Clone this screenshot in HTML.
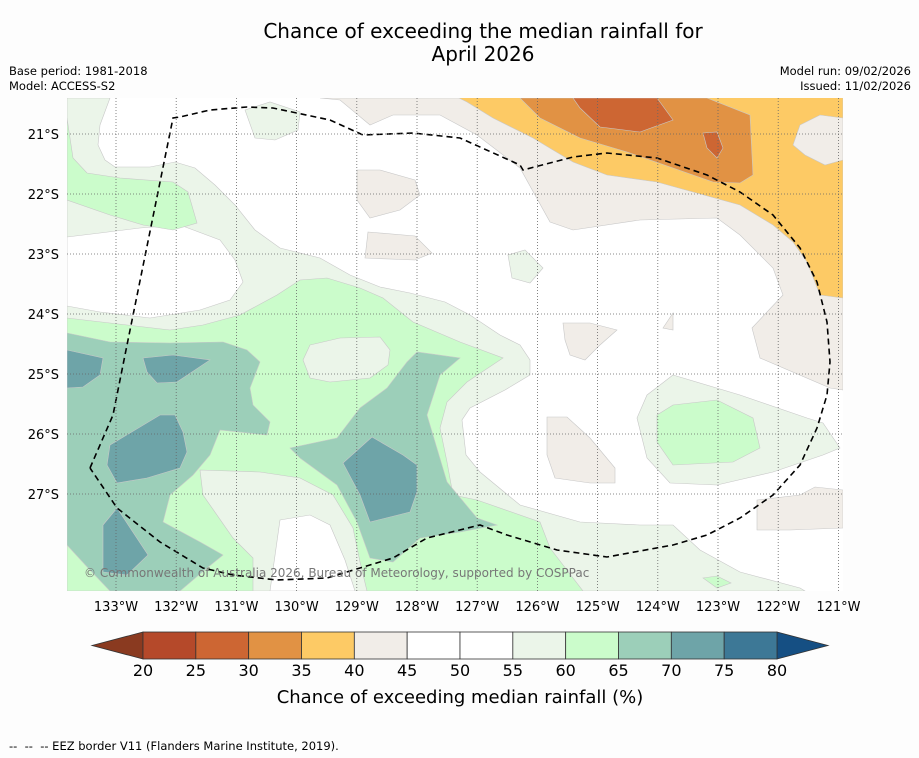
<!DOCTYPE html>
<html><head><meta charset="utf-8"><style>
body{margin:0;background:#fdfdfd;font-family:"DejaVu Sans","Liberation Sans",sans-serif;}
svg{display:block;font-family:"DejaVu Sans","Liberation Sans",sans-serif;}
</style></head><body>
<svg id="c" width="919" height="758" xmlns="http://www.w3.org/2000/svg">
<rect width="919" height="758" fill="#fdfdfd"/>
<text x="483" y="38" text-anchor="middle" font-size="20">Chance of exceeding the median rainfall for</text>
<text x="483" y="61" text-anchor="middle" font-size="20">April 2026</text>
<text x="9" y="75" font-size="11.5">Base period: 1981-2018</text>
<text x="9" y="90" font-size="11.5">Model: ACCESS-S2</text>
<text x="911" y="75" font-size="11.5" text-anchor="end">Model run: 09/02/2026</text>
<text x="911" y="90" font-size="11.5" text-anchor="end">Issued: 11/02/2026</text>
<defs><clipPath id="mc"><rect x="67" y="98" width="776" height="493"/></clipPath></defs>
<g id="map" clip-path="url(#mc)"><rect x="67" y="98" width="776" height="493" fill="#ffffff"/></g>
<g id="grid"></g>
<g id="axes"></g>
<text x="84" y="577" font-size="12" fill="#777">© Commonwealth of Australia 2026, Bureau of Meteorology, supported by COSPPac</text>
<g id="cbar"></g>
<text x="460" y="703" text-anchor="middle" font-size="18">Chance of exceeding median rainfall (%)</text>
<text x="9" y="750" font-size="11.5" style="white-space:pre">--  --  -- EEZ border V11 (Flanders Marine Institute, 2019).</text>
</svg>
<script>
const NS="http://www.w3.org/2000/svg";
const lonTicks=[133,132,131,130,129,128,127,126,125,124,123,122,121];
const latTicks=[21,22,23,24,25,26,27];
const binEdges=[20,25,30,35,40,45,50,55,60,65,70,75,80];
const binColors=["#b5492a","#cd6633","#e19244","#fdca65","#f1ede8","#ffffff","#ffffff","#ebf5e9","#cbfccb","#9ccfb9","#6ea4a8","#3d7896"];
const underColor="#8a3a20", overColor="#154f83";
const xLon=w=>116+(133-w)*60.2;
const yLat=s=>134+(s-21)*60;
const xCb=v=>143+(v-20)*(634/60);
function mk(t,a,p){const e=document.createElementNS(NS,t);for(const k in a)e.setAttribute(k,a[k]);p.appendChild(e);return e;}
const C={y:"#fdca65",o:"#e19244",r:"#cd6633",b:"#f1ede8",w:"#ffffff",e:"#ebf5e9",l:"#cbfccb",t:"#9ccfb9",d:"#6ea4a8"};
const regions=[
["b",[[320,98],[843,98],[843,390],[830,388],[760,358],[752,328],[783,295],[773,268],[740,235],[717,218],[640,220],[573,230],[550,222],[520,168],[477,135],[440,115],[393,115],[370,125],[340,100]]],
["y",[[453,95],[843,95],[843,298],[820,295],[807,262],[793,242],[773,225],[740,205],[693,192],[657,182],[607,175],[573,162],[533,138],[493,118],[467,102]]],
["o",[[520,98],[707,98],[750,115],[753,175],[740,183],[713,182],[673,168],[627,152],[580,138],[540,118]]],
["r",[[573,98],[657,98],[673,120],[640,132],[600,127],[580,108]]],
["r",[[703,133],[717,132],[723,148],[717,158],[707,148]]],
["b",[[800,125],[820,115],[843,118],[843,160],[825,165],[805,155],[793,145]]],
["b",[[357,170],[380,170],[415,180],[420,195],[400,210],[370,218],[357,200]]],
["b",[[368,232],[415,236],[432,253],[415,260],[365,258]]],
["b",[[563,323],[590,323],[617,330],[600,345],[585,360],[570,355],[565,340]]],
["b",[[663,328],[673,313],[673,330]]],
["b",[[547,417],[567,417],[590,438],[615,468],[615,483],[590,483],[555,478],[547,455]]],
["b",[[757,500],[800,495],[815,487],[843,490],[843,528],[790,530],[757,530]]],
["e",[[67,98],[110,98],[100,125],[98,145],[105,160],[115,167],[150,167],[175,162],[195,168],[215,185],[235,205],[255,230],[280,248],[320,258],[350,275],[380,287],[410,293],[445,302],[470,315],[500,335],[520,345],[530,360],[530,375],[505,390],[470,408],[462,420],[466,455],[480,472],[520,505],[580,522],[640,525],[673,525],[700,550],[740,572],[800,588],[805,591],[67,591]]],
["w",[[67,237],[100,233],[140,228],[180,225],[220,240],[235,260],[243,282],[230,300],[200,310],[150,318],[100,312],[67,306]]],
["e",[[245,110],[270,102],[300,112],[298,130],[275,140],[255,138]]],
["e",[[508,255],[525,250],[543,268],[530,283],[512,278]]],
["e",[[673,375],[740,395],[807,418],[823,423],[840,448],[823,455],[773,472],[717,485],[670,483],[647,458],[637,418],[647,395]]],
["l",[[67,118],[73,158],[87,173],[120,178],[173,182],[188,192],[197,223],[173,230],[143,225],[110,215],[67,200]]],
["l",[[67,318],[127,325],[170,330],[203,325],[240,315],[277,295],[300,280],[327,278],[360,288],[383,298],[413,322],[460,342],[503,358],[467,382],[447,402],[440,428],[447,462],[453,495],[477,500],[540,522],[550,548],[583,591],[67,591]]],
["e",[[310,345],[340,338],[380,337],[390,350],[388,365],[370,378],[330,382],[310,378],[303,360]]],
["e",[[200,470],[260,472],[300,478],[333,495],[353,528],[360,562],[367,591],[253,591],[253,558],[233,538],[203,495]]],
["w",[[280,520],[310,515],[330,525],[345,560],[355,591],[270,591]]],
["l",[[657,415],[673,405],[717,400],[753,418],[760,448],[733,462],[673,465],[657,442]]],
["l",[[703,578],[717,576],[731,583],[717,588]]],
["t",[[67,333],[110,342],[170,343],[223,342],[247,350],[260,362],[250,388],[253,405],[270,422],[267,435],[220,430],[210,455],[193,475],[170,495],[163,522],[200,542],[223,555],[207,568],[180,591],[67,591]]],
["l",[[67,545],[90,570],[110,591],[67,591]]],
["t",[[290,448],[337,438],[360,408],[387,388],[407,362],[417,352],[460,358],[440,375],[427,415],[447,482],[477,518],[497,525],[460,532],[420,538],[393,562],[370,558],[357,522],[337,485],[300,458]]],
["d",[[67,350],[103,358],[100,375],[83,387],[67,388]]],
["d",[[143,358],[173,355],[210,360],[177,382],[157,383],[147,372]]],
["d",[[110,445],[160,415],[175,415],[183,432],[187,452],[180,468],[147,478],[117,483],[107,465]]],
["d",[[103,525],[117,508],[148,555],[127,575],[103,572]]],
["d",[[343,463],[372,437],[403,455],[417,465],[417,492],[410,512],[370,522],[360,495]]]
];
const map=document.getElementById('map');
regions.forEach((r,i)=>{
 const p=mk('polygon',{points:r[1].map(q=>q.join(',')).join(' '),fill:C[r[0]],stroke:"#c8c8c8","stroke-width":"0.6"},map);
 
 
});
const eez=[[90,468],[113,415],[127,345],[173,118],[180,117],[210,110],[247,107],[273,108],[330,120],[363,135],[413,133],[460,138],[520,165],[523,170],[573,157],[607,153],[657,158],[707,175],[740,192],[773,215],[800,248],[817,282],[827,322],[830,362],[827,395],[817,428],[800,465],[773,495],[740,518],[707,535],[673,545],[607,557],[557,550],[507,535],[480,525],[427,538],[393,558],[360,568],[327,578],[277,580],[233,575],[203,568],[160,542],[117,508],[90,468]];
const ez=mk('polyline',{points:eez.map(q=>q.join(',')).join(' '),fill:"none",stroke:"#000","stroke-width":"1.6","stroke-dasharray":"6,4"},map);


const grid=document.getElementById('grid'), axes=document.getElementById('axes');
lonTicks.forEach(w=>{
 const x=xLon(w);
 const l=mk('line',{x1:x,x2:x,y1:98,y2:591,stroke:"#666","stroke-width":"0.8","stroke-dasharray":"1,2"},grid);
 
 
 const t=mk('text',{x:x,y:611,"text-anchor":"middle","font-size":"13"},axes);
 t.textContent=w+"°W";
 
 
});
latTicks.forEach(s=>{
 const y=yLat(s);
 const l=mk('line',{x1:67,x2:843,y1:y,y2:y,stroke:"#666","stroke-width":"0.8","stroke-dasharray":"1,2"},grid);
 
 
 const t=mk('text',{x:59,y:y+5,"text-anchor":"end","font-size":"13"},axes);
 t.textContent=s+"°S";
 
 
});
const cb=document.getElementById('cbar');
const y0=632,y1=659,ym=(y0+y1)/2;
const tu=mk('polygon',{points:`92,${ym} ${xCb(20)},${y0} ${xCb(20)},${y1}`,fill:underColor,stroke:"#333","stroke-width":"0.8"},cb);


const to=mk('polygon',{points:`828,${ym} ${xCb(80)},${y0} ${xCb(80)},${y1}`,fill:overColor,stroke:"#333","stroke-width":"0.8"},cb);


binColors.forEach((c,i)=>{
 const a=xCb(binEdges[i]),b=xCb(binEdges[i+1]);
 const r=mk('rect',{x:a,y:y0,width:b-a,height:y1-y0,fill:c,stroke:"#333","stroke-width":"0.8"},cb);
 
 
});
binEdges.forEach(v=>{
 const t=mk('text',{x:xCb(v),y:676,"text-anchor":"middle","font-size":"16"},cb);
 t.textContent=v;
 
 
});
</script>
</body></html>
